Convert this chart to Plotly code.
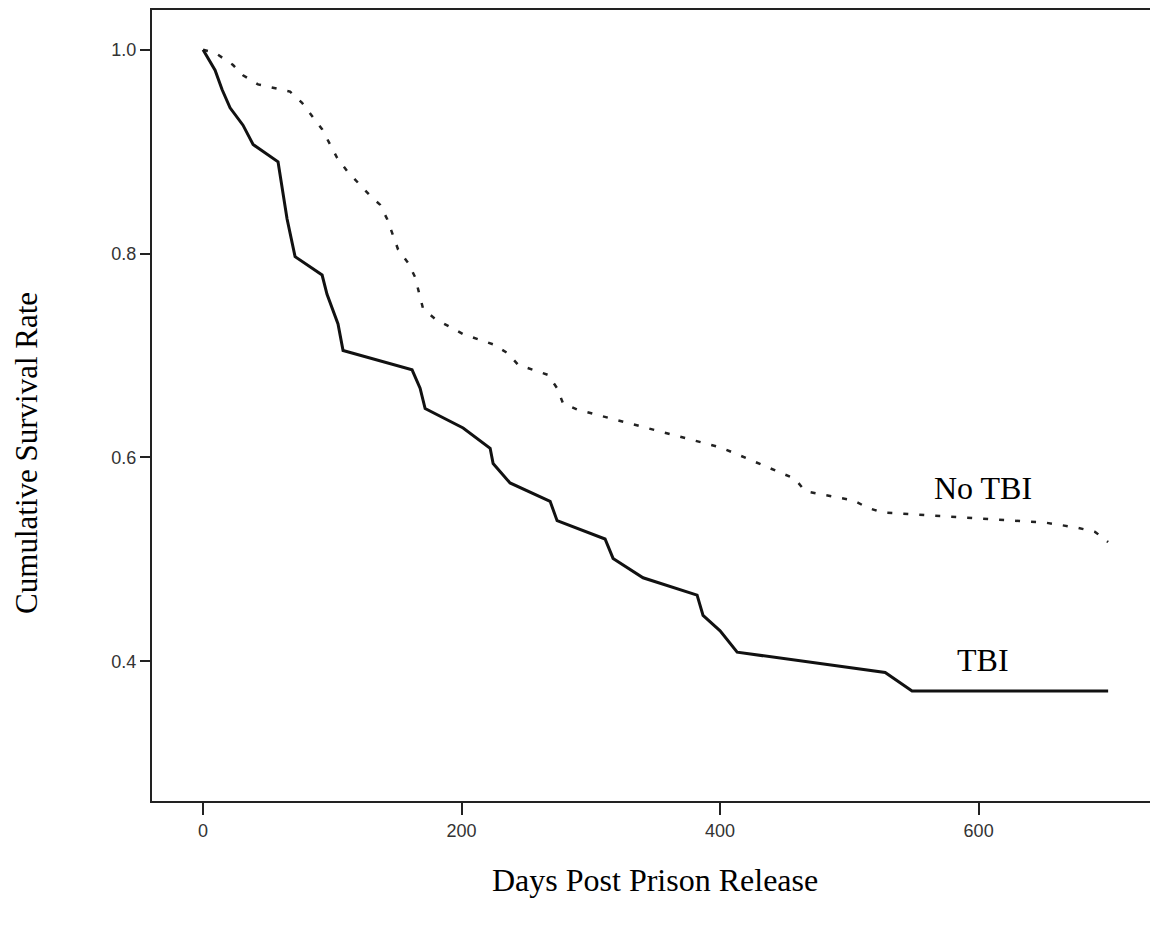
import plotly.graph_objects as go

# Kaplan-Meier style survival curves
tbi_days = [0, 9.3, 14.7, 20.9, 30.9, 38.7, 58.0, 65.0, 71.2, 92.1, 95.9, 104.4, 108.3,
            161.7, 167.9, 171.8, 201.2, 222.1, 224.4, 237.5, 268.5, 273.9, 311.0, 317.2,
            340.4, 382.2, 386.8, 400.0, 413.2, 527.7, 548.5, 700.2]
tbi_surv = [1.000, 0.980, 0.961, 0.943, 0.926, 0.907, 0.890, 0.834, 0.797, 0.779, 0.760,
            0.731, 0.705, 0.686, 0.668, 0.648, 0.629, 0.609, 0.594, 0.575, 0.557, 0.538,
            0.520, 0.501, 0.482, 0.465, 0.445, 0.430, 0.409, 0.389, 0.371, 0.371]

notbi_days = [0, 9.3, 23.2, 30.9, 42.5, 67.3, 76.6, 92.1, 103.7, 111.4, 129.2, 136.9,
              142.4, 150.9, 158.6, 164.0, 170.2, 179.5, 201.2, 224.4, 236.0, 243.7, 266.9,
              273.9, 278.5, 289.4, 400.0, 411.6, 458.0, 465.8, 477.4, 502.9, 513.7, 525.3,
              539.3, 652.2, 677.0, 690.1, 700.2]
notbi_surv = [1.000, 0.997, 0.985, 0.975, 0.966, 0.959, 0.948, 0.922, 0.894, 0.881, 0.857,
              0.848, 0.834, 0.804, 0.791, 0.777, 0.746, 0.736, 0.721, 0.711, 0.702, 0.691,
              0.681, 0.668, 0.653, 0.647, 0.610, 0.604, 0.579, 0.567, 0.564, 0.558, 0.551,
              0.546, 0.545, 0.536, 0.531, 0.527, 0.517]

x_ticks = [0, 200, 400, 600]
y_ticks = [0.4, 0.6, 0.8, 1.0]
y_tick_labels = ["0.4", "0.6", "0.8", "1.0"]

fig = go.Figure()
fig.add_trace(go.Scatter(x=notbi_days, y=notbi_surv, mode="lines", name="No TBI",
                         line=dict(color="#222222", width=2.5, dash="5px,11px"),
                         showlegend=False))
fig.add_trace(go.Scatter(x=tbi_days, y=tbi_surv, mode="lines", name="TBI",
                         line=dict(color="#111111", width=3), showlegend=False))

serif = "Liberation Serif, Times New Roman, serif"
fig.add_annotation(x=603.5, y=0.570, xref="x", yref="y", text="No TBI", showarrow=False,
                   xanchor="center", yanchor="middle",
                   font=dict(family=serif, size=32, color="#000"))
fig.add_annotation(x=603.5, y=0.401, xref="x", yref="y", text="TBI", showarrow=False,
                   xanchor="center", yanchor="middle",
                   font=dict(family=serif, size=32, color="#000"))
# plot area: 1005 x 793 px
fig.add_annotation(x=0.5, y=-(880 - 801) / 793, xref="paper", yref="paper",
                   text="Days Post Prison Release", showarrow=False,
                   xanchor="center", yanchor="middle",
                   font=dict(family=serif, size=32, color="#000"))
fig.add_annotation(x=(27 - 152) / 1005, y=(801 - 452) / 793, xref="paper", yref="paper",
                   text="Cumulative Survival Rate", showarrow=False, textangle=-90,
                   xanchor="center", yanchor="middle",
                   font=dict(family=serif, size=31, color="#000"))

# right frame edge (lighter)
fig.add_shape(type="line", xref="paper", yref="paper", x0=1, x1=1, y0=0, y1=1,
              line=dict(color="#bbbbbb", width=2))

fig.update_layout(
    width=1150, height=922,
    margin=dict(l=144, r=1, t=0, b=129, pad=0),
    paper_bgcolor="white", plot_bgcolor="white",
    xaxis=dict(range=[-39.5, 738], tickvals=x_ticks, ticks="outside", ticklen=12,
               tickwidth=2, tickcolor="#222", showline=True, linecolor="#222",
               linewidth=2, mirror=True, showgrid=False, zeroline=False,
               tickfont=dict(family="Liberation Sans, Arial, sans-serif", size=18,
                             color="#333")),
    yaxis=dict(range=[0.263, 1.039], tickvals=y_ticks, ticktext=y_tick_labels,
               ticks="outside", ticklen=10, tickwidth=2, tickcolor="#222",
               showline=True, linecolor="#222", linewidth=2, showgrid=False,
               zeroline=False,
               tickfont=dict(family="Liberation Sans, Arial, sans-serif", size=18,
                             color="#333")),
)

fig.write_html("out.html")
